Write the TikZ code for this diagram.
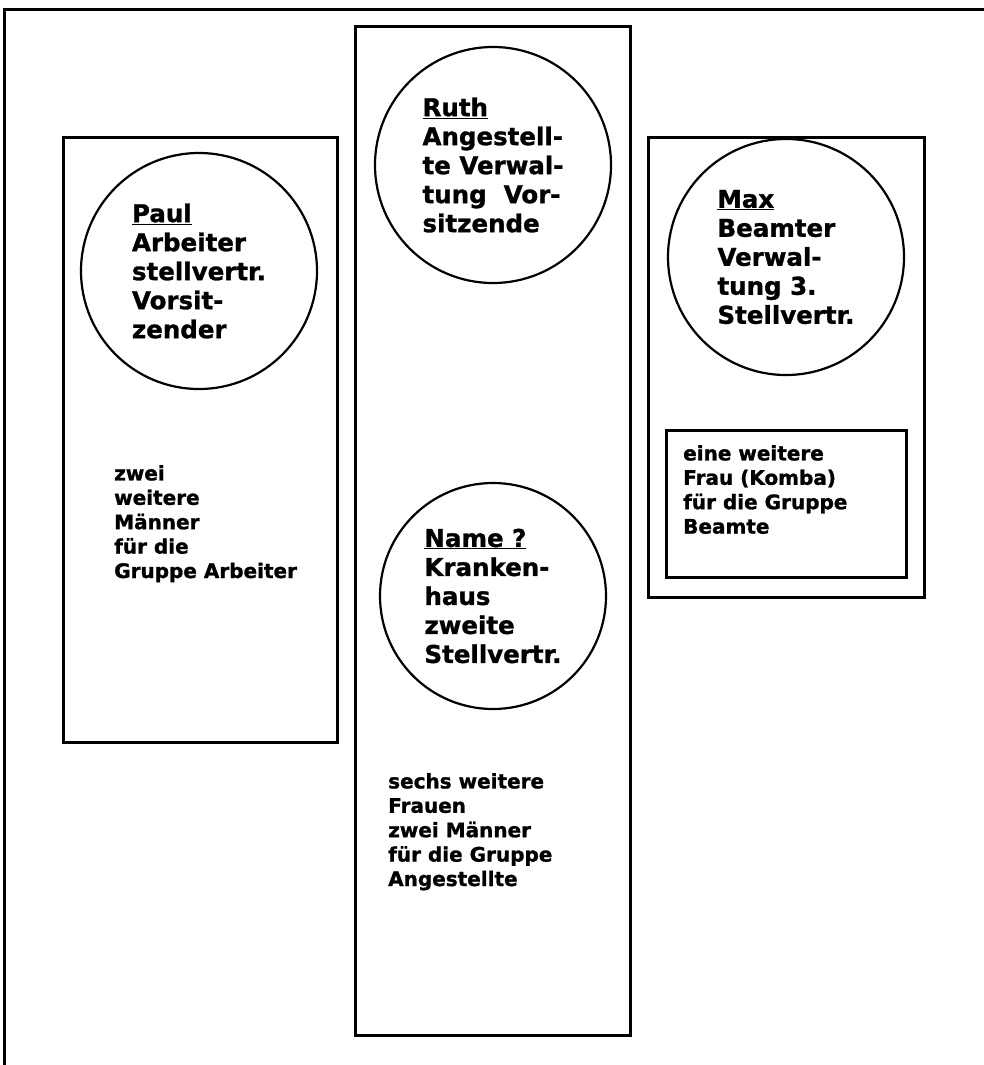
\documentclass[tikz,border=0pt]{standalone}
\usepackage{fontspec}
\setmainfont{DejaVu Sans}[BoldFeatures={FakeBold=1.2}]
\usetikzlibrary{positioning}

\begin{document}
\begin{tikzpicture}[
		x=1pt, y=-1pt,
		frame/.style={draw, line width=3pt, inner sep=0pt},
		member/.style={draw, circle, line width=2.2pt, minimum size=236pt, inner sep=0pt, align=left,
			font=\bfseries\fontsize{24.5}{29}\selectfont},
		note/.style={anchor=north west, inner sep=0pt, align=left,
			font=\bfseries\fontsize{20}{24.4}\selectfont},
	]
		\useasboundingbox (0,0) rectangle (984,1065);
		\coordinate (page tl) at (4,10);
		\coordinate (page tr) at (984,10);
		\coordinate (page bl) at (4,1065);
		\draw[line width=3pt] (page tr) -- (page tl) -- (page bl);
		
		\node (arbeiter) [frame, minimum width=274pt, minimum height=605pt] at (200,439.5) {};
		\node (angestellte) [frame, minimum width=275pt, minimum height=1008pt] at (492.5,531) {};
		\node (beamte) [frame, minimum width=276pt, minimum height=460pt] at (786,367) {};
		\node (komba) [frame, minimum width=240pt, minimum height=147pt] at (786,503.5) {};
		
		\node (paul) [member] at (199,271) {\underline{Paul}\\Arbeiter\\stellvertr.\\Vorsit-\\zender};
		\node (ruth) [member] at (493,165) {\underline{Ruth}\\Angestell-\\te Verwal-\\tung~~Vor-\\sitzende};
		\node (max) [member] at (786,257) {\underline{Max}\\Beamter\\Verwal-\\tung 3.\\Stellvertr.};
		\node (name) [member, minimum size=226pt] at (493,596) {\underline{Name ?}\\Kranken-\\haus\\zweite\\Stellvertr.};
		
		\node (arbeiter text) [note] at (114,465) {zwei\\weitere\\Männer\\für die\\Gruppe Arbeiter};
		\node (beamte text) [note] at (683,445) {eine weitere\\Frau (Komba)\\für die Gruppe\\Beamte};
		\node (angestellte text) [note] at (388,773) {sechs weitere\\Frauen\\zwei Männer\\für die Gruppe\\Angestellte};
	\end{tikzpicture}
\end{document}
